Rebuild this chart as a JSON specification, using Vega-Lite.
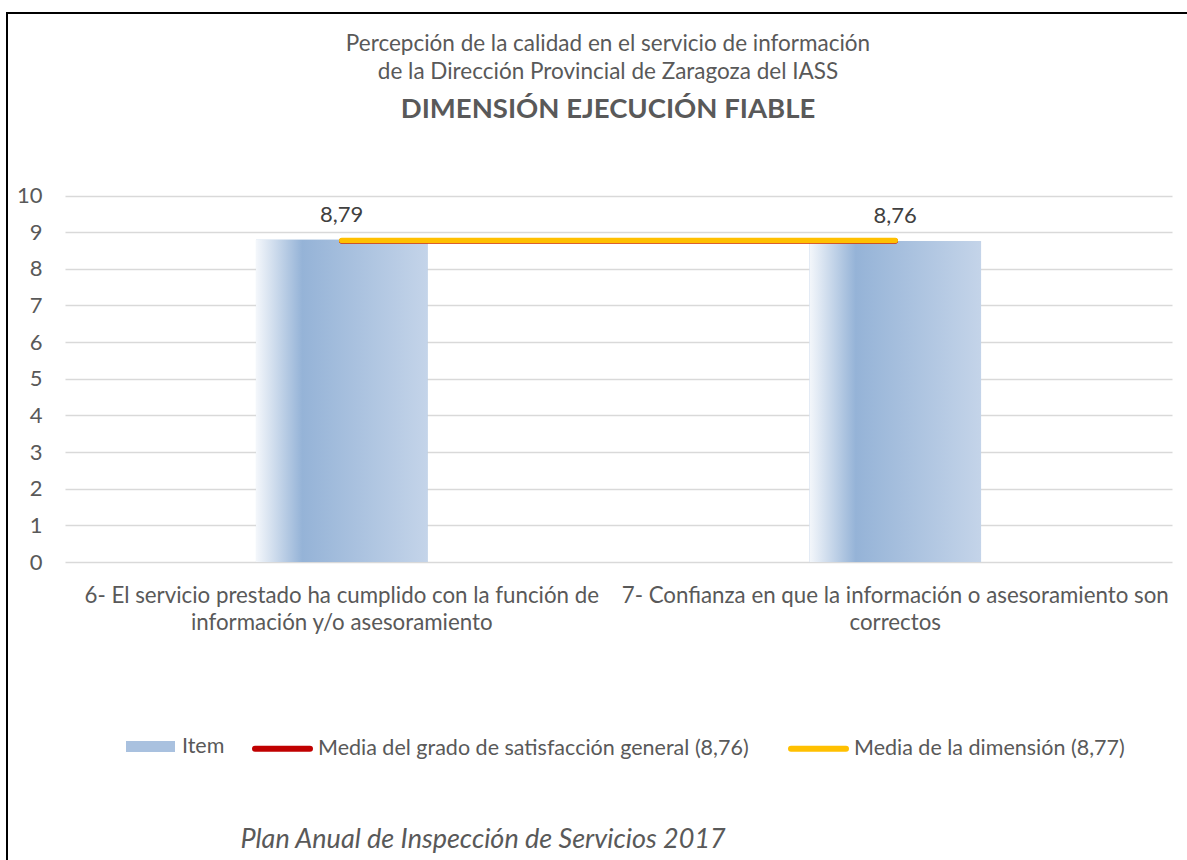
{
  "$schema": "https://vega.github.io/schema/vega-lite/v6.json",
  "autosize": {"type": "none"},
  "padding": {"left": 7, "top": 13, "right": -2, "bottom": -2},
  "width": 1182,
  "height": 849,
  "background": "white",
  "datasets": {
    "items": [
      {"pregunta": "6- El servicio prestado ha cumplido con la función de información y/o asesoramiento", "serie": "Item", "valor": 8.79},
      {"pregunta": "7- Confianza en que la información o asesoramiento son correctos", "serie": "Item", "valor": 8.76}
    ],
    "medias": [
      {"pregunta": "6- El servicio prestado ha cumplido con la función de información y/o asesoramiento", "serie": "Media del grado de satisfacción general (8,76)", "valor": 8.76},
      {"pregunta": "7- Confianza en que la información o asesoramiento son correctos", "serie": "Media del grado de satisfacción general (8,76)", "valor": 8.76},
      {"pregunta": "6- El servicio prestado ha cumplido con la función de información y/o asesoramiento", "serie": "Media de la dimensión (8,77)", "valor": 8.77},
      {"pregunta": "7- Confianza en que la información o asesoramiento son correctos", "serie": "Media de la dimensión (8,77)", "valor": 8.77}
    ]
  },
  "title": {
    "text": ["Percepción de la calidad en el servicio de información", "de la Dirección Provincial de Zaragoza del IASS"],
    "subtitle": "DIMENSIÓN EJECUCIÓN FIABLE",
    "anchor": "middle",
    "frame": "group",
    "offset": -110,
    "dx": 10,
    "font": "Lato",
    "fontSize": 22.5,
    "fontWeight": "normal",
    "color": "#595959",
    "lineHeight": 28,
    "subtitleFont": "Lato",
    "subtitleFontSize": 27.5,
    "subtitleFontWeight": "bold",
    "subtitleColor": "#595959",
    "subtitlePadding": 12
  },
  "layer": [
    {
      "data": {"name": "items"},
      "mark": {"type": "bar"},
      "encoding": {
        "x": {
          "field": "pregunta", "type": "nominal", "sort": null,
          "scale": {"type": "band", "range": [58, 1165], "paddingInner": 0.69, "paddingOuter": 0.345},
          "axis": {
            "orient": "bottom", "offset": -300, "domain": false, "ticks": false, "grid": false,
            "labelAngle": 0, "labelBaseline": "alphabetic", "labelPadding": 40, "labelLineHeight": 27.5,
            "labelFont": "Lato", "labelFontSize": 22.3, "labelColor": "#595959", "labelLimit": 0,
            "labelExpr": "datum.value == '6- El servicio prestado ha cumplido con la función de información y/o asesoramiento' ? ['6- El servicio prestado ha cumplido con la función de', 'información y/o asesoramiento'] : ['7- Confianza en que la información o asesoramiento son', 'correctos']",
            "title": "Plan Anual de Inspección de Servicios 2017",
            "titleFont": "Lato", "titleFontSize": 27, "titleFontStyle": "italic", "titleFontWeight": "normal",
            "titleColor": "#595959", "titleAlign": "left", "titleAnchor": "start", "titleX": 233, "titleY": 285,
            "titleBaseline": "alphabetic"
          }
        },
        "y": {
          "field": "valor", "type": "quantitative",
          "scale": {"domain": [0, 10], "range": [549, 182.5], "nice": false},
          "axis": {
            "title": null, "values": [0, 1, 2, 3, 4, 5, 6, 7, 8, 9, 10], "format": "d", "offset": -35,
            "domain": false, "ticks": false, "labelPadding": 0,
            "grid": true, "gridColor": "#D9D9D9", "gridWidth": 1.5,
            "labelFont": "Lato", "labelFontSize": 22, "labelColor": "#595959"
          }
        },
        "fill": {
          "field": "serie", "type": "nominal",
          "scale": {"domain": ["Item"], "range": ["#A9C1DF"]},
          "legend": {
            "title": null, "orient": "none", "legendX": 119, "legendY": 709,
            "symbolType": "M-1,-0.224H1V0.224H-1Z", "symbolSize": 2401, "symbolStrokeWidth": 0,
            "labelFont": "Lato", "labelFontSize": 21.5, "labelColor": "#595959", "labelOffset": 7,
            "encode": {"symbols": {"enter": {"fill": {"value": {"gradient": "linear", "x1": 0, "y1": 0, "x2": 1, "y2": 0, "stops": [{"offset": 0, "color": "#F4F7FB"}, {"offset": 0.27, "color": "#95B3D7"}, {"offset": 1, "color": "#C4D4E9"}]}}}, "update": {"fill": {"value": {"gradient": "linear", "x1": 0, "y1": 0, "x2": 1, "y2": 0, "stops": [{"offset": 0, "color": "#F4F7FB"}, {"offset": 0.27, "color": "#95B3D7"}, {"offset": 1, "color": "#C4D4E9"}]}}}}}
          }
        }
      }
    },
    {
      "data": {"name": "items"},
      "mark": {"type": "bar", "fill": {"gradient": "linear", "x1": 0, "y1": 0, "x2": 1, "y2": 0, "stops": [{"offset": 0, "color": "#F4F7FB"}, {"offset": 0.27, "color": "#95B3D7"}, {"offset": 1, "color": "#C4D4E9"}]}},
      "encoding": {
        "x": {"field": "pregunta", "type": "nominal", "sort": null},
        "y": {"field": "valor", "type": "quantitative"}
      }
    },
    {
      "data": {"name": "medias"},
      "transform": [{"filter": "datum.serie == 'Media del grado de satisfacción general (8,76)'"}],
      "mark": {"type": "line", "strokeWidth": 5.5, "strokeCap": "round"},
      "encoding": {
        "x": {"field": "pregunta", "type": "nominal", "sort": null},
        "y": {"field": "valor", "type": "quantitative"},
        "stroke": {
          "field": "serie", "type": "nominal",
          "scale": {"domain": ["Media del grado de satisfacción general (8,76)", "Media de la dimensión (8,77)"], "range": ["#C00000", "#FFC000"]},
          "legend": {
            "title": null, "orient": "none", "legendX": 245, "legendY": 705, "direction": "horizontal",
            "symbolType": "stroke", "symbolSize": 3025, "symbolStrokeWidth": 6,
            "labelFont": "Lato", "labelFontSize": 21.5, "labelColor": "#595959", "labelOffset": 5, "labelLimit": 0,
            "columnPadding": 30,
            "encode": {"symbols": {"update": {"strokeCap": {"value": "round"}}}}
          }
        }
      }
    },
    {
      "data": {"name": "medias"},
      "transform": [{"filter": "datum.serie == 'Media de la dimensión (8,77)'"}],
      "mark": {"type": "line", "strokeWidth": 5.5, "strokeCap": "round"},
      "encoding": {
        "x": {"field": "pregunta", "type": "nominal", "sort": null},
        "y": {"field": "valor", "type": "quantitative"},
        "stroke": {"field": "serie", "type": "nominal"}
      }
    },
    {
      "data": {"name": "items"},
      "mark": {"type": "text", "font": "Lato", "fontSize": 22, "color": "#404040", "baseline": "alphabetic", "dy": -18},
      "encoding": {
        "x": {"field": "pregunta", "type": "nominal", "sort": null},
        "y": {"field": "valor", "type": "quantitative"},
        "text": {"field": "valor", "type": "quantitative", "format": ".2f"}
      }
    }
  ],
  "config": {
    "locale": {"number": {"decimal": ",", "thousands": ".", "grouping": [3], "currency": ["", " €"]}},
    "view": {"stroke": "black", "strokeWidth": 2}
  }
}
